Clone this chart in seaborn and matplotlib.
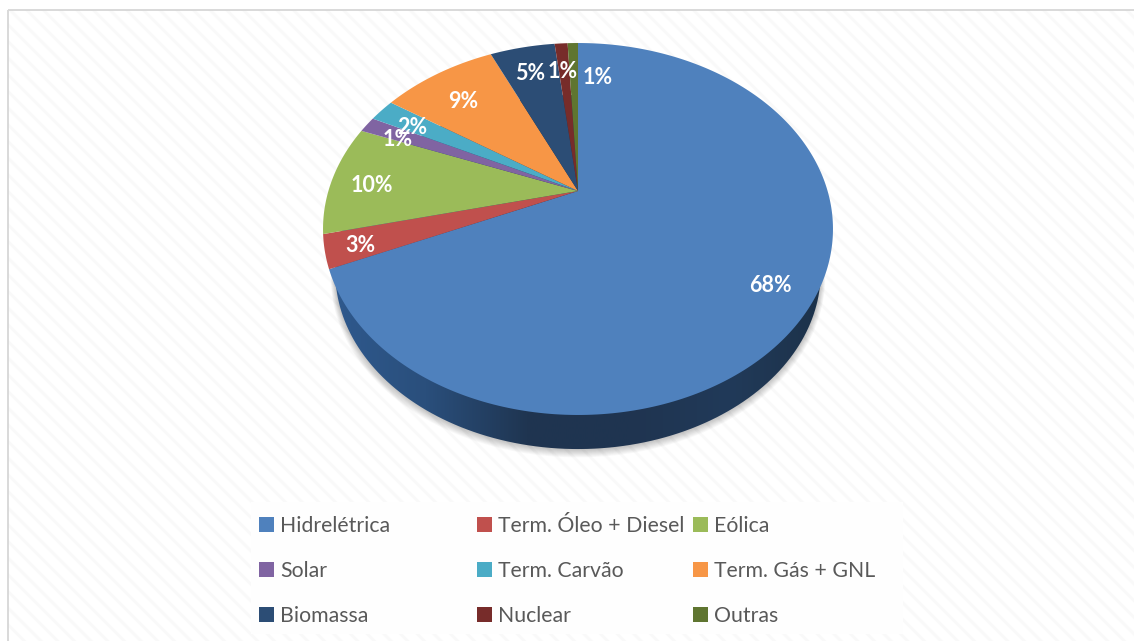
import numpy as np
import matplotlib
matplotlib.use("Agg")
import matplotlib.pyplot as plt
from matplotlib.patches import Rectangle, Patch, Circle
from matplotlib.path import Path
from matplotlib.transforms import Transform, Affine2D
from matplotlib.colors import LinearSegmentedColormap
import seaborn as sns

# ---- data -------------------------------------------------------------
categories = ["Hidrelétrica", "Term. Óleo + Diesel", "Eólica", "Solar", "Term. Carvão",
              "Term. Gás + GNL", "Biomassa", "Nuclear", "Outras"]
shares = [68.4, 2.9, 9.6, 1.4, 2.0, 8.9, 5.0, 1.0, 0.8]
colors = ["#4f81bd", "#c0504d", "#9bbb59", "#8064a2", "#4bacc6",
          "#f79646", "#2c4d75", "#772c2a", "#5f7530"]
# hand placed label anchors (pixels), as the original chart uses "best fit"
label_xy = [(770, 285), (360, 246), (372, 185), (398, 139), (412, 128),
            (463, 101), (530, 74), (563, 71), (598, 78)]

W, H = 1134, 641
sns.set_theme(style="white")
plt.rcParams["font.family"] = ["Lato", "DejaVu Sans"]
plt.rcParams["hatch.linewidth"] = 2.1


class Persp(Transform):
    """Perspective view of the unit pie disc, output in pixels."""
    input_dims = output_dims = 2
    has_inverse = False
    is_separable = False

    def __init__(self, dy=0.0, scale=1.0):
        super().__init__()
        self.dy, self.scale = dy, scale

    def transform_non_affine(self, v):
        v = np.asarray(v, float)
        c, a, b, A = 0.2043, -139.2, 191.0, 249.6
        w = 1 + c * v[:, 1]
        x = 578 + self.scale * A * v[:, 0] / w
        y = (a * v[:, 1] + b) / w
        y = 229 + (y - 229) * self.scale + self.dy
        return np.column_stack([x, y])

    def transform_path_non_affine(self, path):
        polys = Affine2D().scale(3000).transform_path(path).to_polygons(closed_only=False)
        verts = np.vstack(polys) / 3000
        return Path(self.transform_non_affine(verts))


fig = plt.figure(figsize=(W / 100, H / 100), dpi=100, facecolor="white")
ax = fig.add_axes([0, 0, 1, 1])

palette = sns.color_palette(colors)
wedges, _, autotexts = ax.pie(shares, colors=palette, startangle=90, counterclock=False,
                              autopct=lambda p: f"{p:.0f}%", radius=1,
                              wedgeprops=dict(linewidth=0, zorder=6),
                              textprops=dict(color="white", fontsize=15.5, fontweight="bold", zorder=8))
ax.set_aspect("auto")
ax.axis("off")

# hatched panel and frame
ax.add_patch(Rectangle((8, 10), W - 8 + 5, H - 10 + 5, facecolor="white", edgecolor="#f9f9f9",
                       linewidth=0, hatch="\\\\", zorder=1))
ax.add_patch(Rectangle((8, 10), W - 8 + 5, H - 10 + 5, facecolor="none", edgecolor="#d9d9d9",
                       linewidth=1.4, zorder=1.5))
# legend panel
ax.add_patch(Rectangle((251, 502), 652, 132, facecolor="#fefefe", edgecolor="none", zorder=1.6))

WALL_DY, WALL_SCALE = 43, 0.952

# soft shadow under the disc
for d in np.linspace(10, 1, 10):
    s = Circle((0, 0), 1, facecolor="#000000", alpha=0.025, edgecolor="none", zorder=2)
    s.set_transform(Persp(dy=WALL_DY + d * 0.5, scale=WALL_SCALE + d * 0.0018) + ax.transData)
    ax.add_patch(s)

# side wall: lower rim of the disc, filled with a horizontal gradient
cmap = LinearSegmentedColormap.from_list(
    "wall", ["#2f5a8f", "#2a4f7c", "#1f3551", "#1f3450", "#213a59", "#1c3148"])
grad = np.linspace(0, 1, 256).reshape(1, -1)
clip = Circle((0, 0), 1, facecolor="none", edgecolor="none")
clip.set_transform(Persp(dy=WALL_DY, scale=WALL_SCALE) + ax.transData)
ax.add_patch(clip)
im = ax.imshow(grad, extent=(323, 833, H, 0), cmap=cmap, aspect="auto", zorder=4)
im.set_clip_path(clip)
ax.set_xlim(0, W)
ax.set_ylim(H, 0)

# top face
for wd in wedges:
    wd.set_transform(Persp() + ax.transData)
    wd.set_clip_on(False)

for t, xy in zip(autotexts, label_xy):
    t.set_position(xy)
    t.set_ha("center")
    t.set_va("center")

# legend: three independent columns so their spacing matches the original
handles = [Patch(facecolor=c, edgecolor="none") for c in palette]
cols = [(0, 3, 6, 259), (1, 4, 7, 477), (2, 5, 8, 693)]
for n, (i0, i1, i2, x) in enumerate(cols):
    leg = ax.legend([handles[i] for i in (i0, i1, i2)], [categories[i] for i in (i0, i1, i2)],
                    loc="upper left", bbox_to_anchor=(x, 516), bbox_transform=ax.transData,
                    frameon=False, ncol=1, borderaxespad=0, borderpad=0, fontsize=15.3,
                    labelcolor="#595959", handlelength=0.7, handleheight=0.7,
                    handletextpad=0.28, labelspacing=1.18)
    leg.set_zorder(9)
    if n < len(cols) - 1:
        ax.add_artist(leg)

fig.savefig("out.png", dpi=100, facecolor="white")
